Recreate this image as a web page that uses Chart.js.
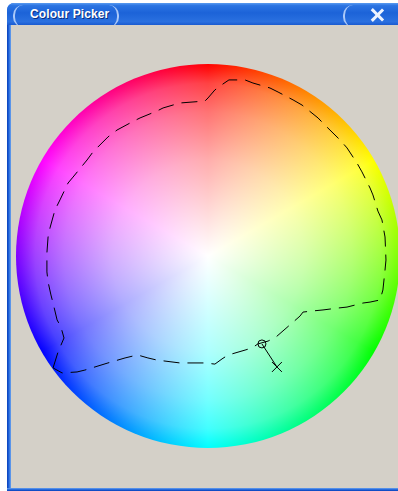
<!DOCTYPE html>
<html>
<head>
<meta charset="utf-8">
<title>Colour Picker</title>
<script src="https://cdn.jsdelivr.net/npm/chart.js@4/dist/chart.umd.min.js"></script>
<style>
  html, body { margin: 0; padding: 0; background: #fff; }
  body { width: 398px; height: 491px; position: relative; overflow: hidden; font-family: "Liberation Sans", "DejaVu Sans", sans-serif; }
  .win { position: absolute; left: 7px; top: 3px; width: 400px; height: 488px; background: #1d5fd6; border-radius: 7px 7px 0 0; }
  .titlebar {
    position: absolute; left: 0; top: 0; right: 0; height: 22px;
    border-radius: 7px 7px 0 0; overflow: hidden;
    background: linear-gradient(180deg, #5a9bf0 0%, #2b74e2 12%, #1c63d8 45%, #2a70e0 85%, #1a5ad0 100%);
  }
  .pill { position: absolute; top: 2px; height: 22px; border-left: 2px solid rgba(205,225,255,0.8); border-right: 2px solid rgba(205,225,255,0.8); border-top: 0; border-bottom: 0; border-radius: 10px; }
  .title { position: absolute; left: 23px; top: 4px; color: #fff; font-weight: bold; font-size: 12px; text-shadow: 1px 1px 0 #0a2f80; letter-spacing: 0.1px; }
  .close { position: absolute; left: 363px; top: 5px; width: 14px; height: 14px; }
  .close::before, .close::after { content: ""; position: absolute; left: 6px; top: -1px; width: 2.5px; height: 16px; background: #eef4ff; }
  .close::before { transform: rotate(45deg); }
  .close::after { transform: rotate(-45deg); }
  .frame { position: absolute; left: 0; top: 22px; width: 4px; bottom: 0; background: linear-gradient(90deg, #0a3fb8, #1b5fd8 40%, #6aa2ee); }
  .frameb { position: absolute; left: 0; right: 0; bottom: 0; height: 3px; background: linear-gradient(180deg, #6aa2ee, #1b5fd8 60%, #0a3fb8); }
  .client { position: absolute; left: 4px; top: 22px; right: 0; bottom: 3px; background: #d4d0c8; }
  canvas { position: absolute; left: 0; top: 0; }
</style>
</head>
<body>
<div class="win">
  <div class="titlebar">
    <div class="pill" style="left:6px;width:102px;"></div>
    <div class="title">Colour Picker</div>
    <div class="pill" style="left:336px;width:80px;border-right:0;"></div>
    <div class="close"></div>
  </div>
  <div class="client"></div>
  <div class="frame"></div>
  <div class="frameb"></div>
</div>
<canvas id="chart" width="398" height="491"></canvas>
<script>
// wheel space: centre 0,0, rim at radius 100
const WHEEL_RADIUS = 100;
const hueStops = ['#ff0000', '#ffff00', '#00ff00', '#00ffff', '#0000ff', '#ff00ff', '#ff0000'];
// how much white is mixed in, from centre (0) to rim (1)
const whiteStops = [[0, 1], [0.5, 0.68], [0.75, 0.45], [0.9, 0.26], [0.97, 0.07], [1, 0]];

// dashed selection outline (wheel units)
const contourX = [-80.7, -78.1, -75.0, -76.6, -78.6, -80.7, -81.8, -83.3, -83.9, -83.9, -83.3, -82.3, -79.7, -77.1,
  -72.9, -70.3, -63.0, -59.9, -52.1, -47.4, -39.6, -35.4, -26.6, -23.4, -14.6, -1.6, 0.0, 3.6, 7.8, 10.9, 19.3,
  23.4, 32.3, 36.5, 44.3, 49.0, 57.3, 60.9, 68.8, 72.4, 77.6, 80.2, 84.4, 85.9, 88.5, 90.6, 92.2, 92.7, 92.2, 91.1,
  89.6, 84.4, 80.7, 72.4, 67.7, 59.9, 54.7, 49.5, 47.9, 43.8, 35.4, 31.3, 26.0, 22.9, 19.3, 10.4, 7.3, 3.6, -1.6,
  -14.6, -26.6, -31.3, -36.5, -39.1, -43.2, -52.1, -64.1, -68.2, -76.0, -80.7];
const contourY = [-58.3, -50.0, -42.7, -37.0, -33.3, -24.5, -20.3, -13.5, -8.3, 1.6, 9.9, 14.6, 24.0, 29.2,
  38.0, 41.1, 50.0, 54.2, 62.0, 65.6, 69.8, 71.9, 75.5, 77.1, 79.7, 80.7, 82.3, 86.5, 89.6, 91.7, 91.7,
  90.1, 87.5, 85.4, 81.3, 78.6, 71.9, 68.2, 60.4, 56.3, 48.4, 43.8, 35.4, 31.8, 23.4, 18.8, 9.9, -2.1, -7.3, -17.7,
  -22.9, -24.0, -24.5, -26.6, -27.1, -28.1, -28.6, -29.2, -31.3, -34.9, -42.2, -44.3, -45.8, -47.9, -49.0, -51.6, -53.6, -56.3, -55.7,
  -55.7, -54.2, -53.1, -51.6, -52.1, -53.1, -55.7, -59.4, -60.4, -60.9, -58.3];

// picked colour handle: ring and target cross
const handleX = [28.1, 35.9];
const handleY = [-45.8, -57.8];

const toPoints = (xs, ys) => xs.map((x, i) => ({ x, y: ys[i] }));

const wheelPlugin = {
  id: 'wheelPlugin',
  beforeDatasetsDraw(chart) {
    const { ctx } = chart;
    const sx = chart.scales.x, sy = chart.scales.y;
    const cx = sx.getPixelForValue(0);
    const cy = sy.getPixelForValue(0);
    const r = sx.getPixelForValue(WHEEL_RADIUS) - cx;
    ctx.save();
    ctx.beginPath();
    ctx.arc(cx, cy, r, 0, Math.PI * 2);
    const conic = ctx.createConicGradient(-Math.PI / 2, cx, cy);
    hueStops.forEach((c, i) => conic.addColorStop(i / (hueStops.length - 1), c));
    ctx.fillStyle = conic;
    ctx.fill();
    const radial = ctx.createRadialGradient(cx, cy, 0, cx, cy, r);
    whiteStops.forEach(([pos, a]) => radial.addColorStop(pos, `rgba(255,255,255,${a})`));
    ctx.fillStyle = radial;
    ctx.fill();
    ctx.restore();
  }
};

// canvas covers the page; wheel centre sits at (208,256), 1.92 px per unit
const PX = 1.92;
new Chart(document.getElementById('chart'), {
  type: 'scatter',
  data: {
    datasets: [
      {
        data: toPoints(contourX, contourY),
        showLine: true,
        borderColor: '#000',
        borderWidth: 1,
        borderDash: [16, 8],
        pointRadius: 0,
        tension: 0
      },
      {
        data: toPoints(handleX, handleY),
        showLine: true,
        borderColor: '#000',
        borderWidth: 1,
        pointRadius: 0
      },
      {
        data: [{ x: handleX[0], y: handleY[0] }],
        pointStyle: 'circle',
        pointRadius: 4,
        pointBorderWidth: 1,
        pointBorderColor: '#000',
        pointBackgroundColor: 'rgba(0,0,0,0)'
      },
      {
        data: [{ x: handleX[1], y: handleY[1] }],
        pointStyle: 'crossRot',
        pointRadius: 7,
        pointBorderWidth: 1,
        pointBorderColor: '#000'
      }
    ]
  },
  options: {
    responsive: false,
    animation: false,
    layout: { padding: 0, autoPadding: false },
    plugins: { legend: { display: false }, tooltip: { enabled: false } },
    scales: {
      x: { type: 'linear', display: false, min: -208 / PX, max: 190 / PX },
      y: { type: 'linear', display: false, min: -235 / PX, max: 256 / PX }
    }
  },
  plugins: [wheelPlugin]
});
</script>
</body>
</html>
